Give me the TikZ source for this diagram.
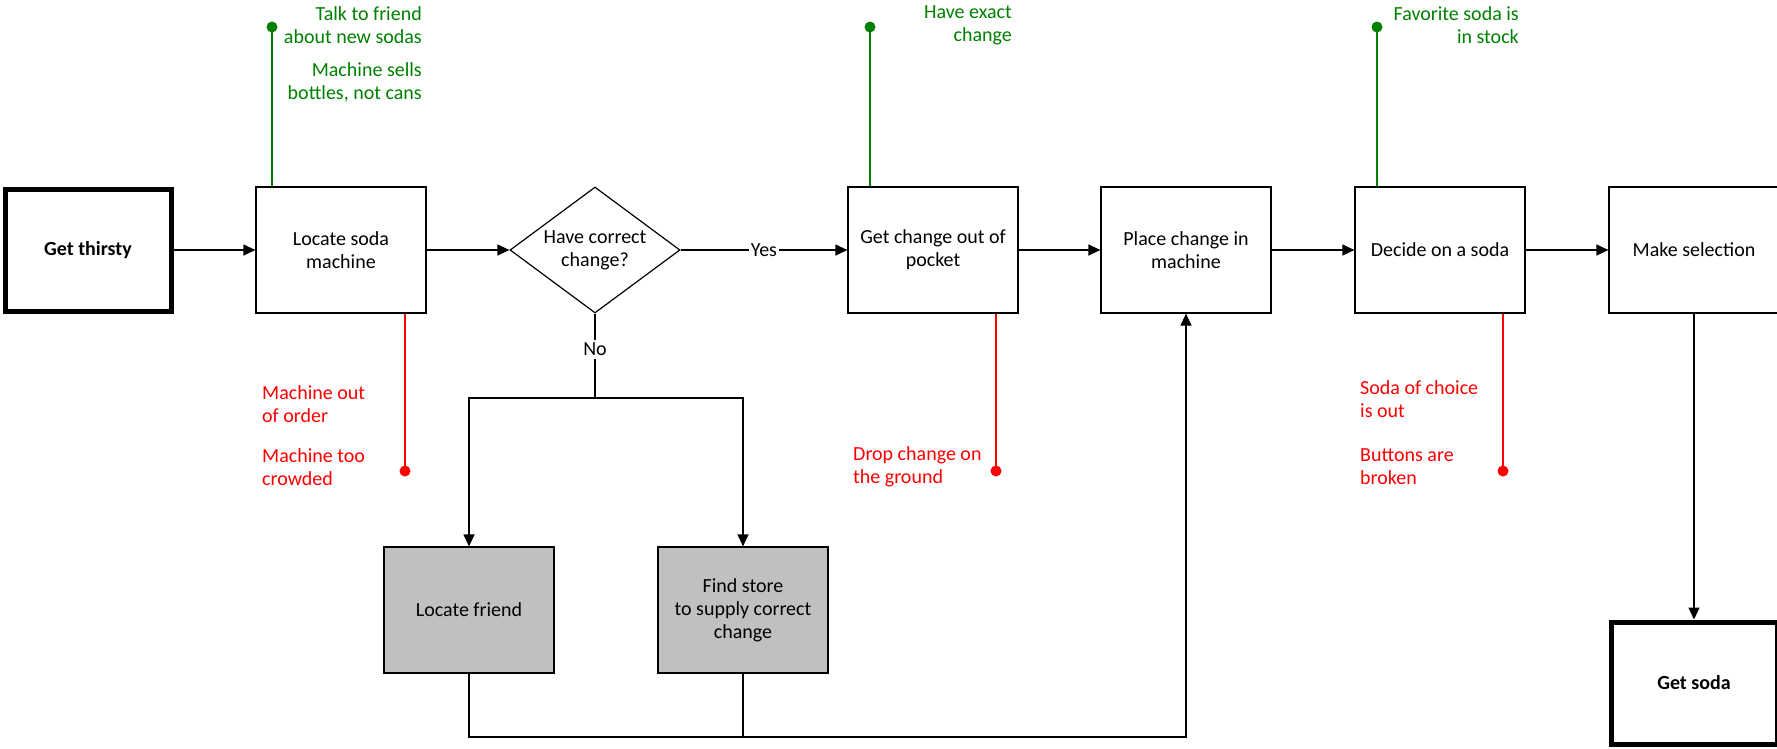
\documentclass[tikz,border=0pt]{standalone}
\usepackage{fontspec}
\setmainfont{Carlito}
\usetikzlibrary{shapes.geometric,arrows.meta}

\definecolor{okgreen}{RGB}{0,128,0}
\definecolor{badred}{RGB}{255,0,0}
\definecolor{altgray}{RGB}{192,192,192}

\newcommand{\chartfont}{\fontsize{20}{23}\selectfont}

\tikzset{
  box/.style={draw, line width=1.2pt, minimum width=170pt, minimum height=126pt, align=center},
  terminal/.style={box, line width=5pt, minimum width=166pt, minimum height=122pt, font=\chartfont\bfseries},
  alt/.style={box, fill=altgray},
  choice/.style={draw, diamond, aspect=1.35, line width=1.2pt, minimum width=170pt, minimum height=126pt, align=center, inner sep=0pt},
  flow/.style={line width=1.2pt, -{Triangle[length=12pt,width=11pt]}},
  pro/.style={draw=okgreen, line width=1.6pt},
  con/.style={draw=badred, line width=1.6pt},
  goodnote/.style={text=okgreen, align=right, inner sep=0pt, anchor=east},
  badnote/.style={text=badred, align=left, inner sep=0pt, anchor=west},
}

\begin{document}
\begin{tikzpicture}[x=1pt,y=-1pt,font=\chartfont]

\useasboundingbox (0,0) rectangle (1777,748);

% main row
\node[terminal] (thirsty) at (88,250) {Get thirsty};
\node[box] (locate) at (341,250) {Locate soda\\machine};
\node[choice] (correct) at (595,250) {Have correct\\change?};
\node[box] (pocket) at (933,250) {Get change out of\\pocket};
\node[box] (place) at (1186,250) {Place change in\\machine};
\node[box] (decide) at (1440,250) {Decide on a soda};
\node[box] (select) at (1694,250) {Make selection};
\node[terminal] (soda) at (1694,683) {Get soda};

% no change at hand
\node[alt] (friend) at (469,610) {Locate friend};
\node[alt] (store) at (743,610) {Find store\\to supply correct\\change};

\draw[flow] (thirsty) -- (locate);
\draw[flow] (locate) -- (correct);
\draw[flow] (correct) -- node[fill=white, inner sep=2pt]{Yes} (pocket);
\draw[flow] (pocket) -- (place);
\draw[flow] (place) -- (decide);
\draw[flow] (decide) -- (select);
\draw[flow] (select) -- (soda);

\coordinate (split) at (595,398);
\draw[line width=1.2pt] (correct.south) -- node[fill=white, inner sep=3pt, pos=0.42]{No} (split);
\draw[flow] (split) -| (friend.north);
\draw[flow] (split) -| (store.north);

\coordinate (join) at (1186,737);
\draw[flow] (friend.south) |- (join) -- (place.south);
\draw[line width=1.2pt] (store.south) -- (store.south |- join);

% what helps
\coordinate (good1) at (272,27);
\coordinate (good2) at (870,27);
\coordinate (good3) at (1377,27);
\draw[pro] (good1 |- locate.north) -- (good1);
\draw[pro] (good2 |- pocket.north) -- (good2);
\draw[pro] (good3 |- decide.north) -- (good3);
\fill[okgreen] (good1) circle[radius=5.5pt];
\fill[okgreen] (good2) circle[radius=5.5pt];
\fill[okgreen] (good3) circle[radius=5.5pt];

\node[goodnote] (talk) at (422,25) {Talk to friend\\about new sodas};
\node[goodnote] (bottles) at (422,82) {Machine sells\\bottles, not cans};
\node[goodnote] (exact) at (1012,25) {Have exact\\change};
\node[goodnote] (stock) at (1519,25) {Favorite soda is\\in stock};

% what goes wrong
\coordinate (bad1) at (405,471);
\coordinate (bad2) at (996,471);
\coordinate (bad3) at (1503,471);
\draw[con] (bad1 |- locate.south) -- (bad1);
\draw[con] (bad2 |- pocket.south) -- (bad2);
\draw[con] (bad3 |- decide.south) -- (bad3);
\fill[badred] (bad1) circle[radius=5.5pt];
\fill[badred] (bad2) circle[radius=5.5pt];
\fill[badred] (bad3) circle[radius=5.5pt];

\node[badnote] (order) at (262,404) {Machine out\\of order};
\node[badnote] (crowded) at (262,467) {Machine too\\crowded};
\node[badnote] (drop) at (853,467) {Drop change on\\the ground};
\node[badnote] (choiceout) at (1360,399) {Soda of choice\\is out};
\node[badnote] (buttons) at (1360,467) {Buttons are\\broken};

\end{tikzpicture}
\end{document}
